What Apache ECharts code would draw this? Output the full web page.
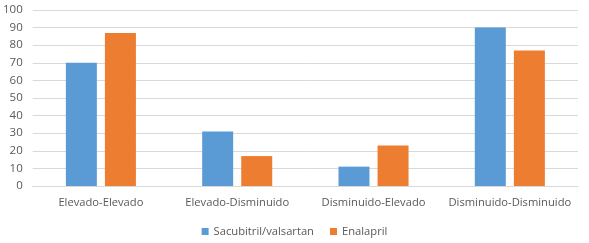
<!DOCTYPE html>
<html>
<head>
<meta charset="utf-8">
<script src="https://cdn.jsdelivr.net/npm/echarts@6/dist/echarts.min.js"></script>
<style>
  html, body { margin: 0; padding: 0; background: #fff; }
  #chart { width: 589px; height: 243px; }
</style>
</head>
<body>
<div id="chart"></div>
<script>
// datos
var categories = ['Elevado-Elevado', 'Elevado-Disminuido', 'Disminuido-Elevado', 'Disminuido-Disminuido'];
var sacubitril = [70, 31, 11, 90];
var enalapril = [87, 17, 23, 77];

var myChart = echarts.init(document.getElementById('chart'));
var txt = '#595959';
var fnt = '"Open Sans", "Liberation Sans", sans-serif';

var option = {
  animation: false,
  textStyle: { fontFamily: fnt },
  legend: {
    bottom: 1,
    left: 'center',
    itemWidth: 7,
    itemHeight: 7,
    itemGap: 16,
    icon: 'rect',
    textStyle: { color: txt, fontSize: 11.2, fontFamily: fnt },
    data: ['Sacubitril/valsartan', 'Enalapril']
  },
  grid: { left: 32, right: 11, top: 10, bottom: 57 },
  xAxis: {
    type: 'category',
    data: categories,
    axisLine: { lineStyle: { color: '#d9d9d9' } },
    axisTick: { show: false },
    axisLabel: { color: txt, fontSize: 11.2, margin: 11, interval: 0, fontFamily: fnt }
  },
  yAxis: {
    type: 'value',
    min: 0,
    max: 100,
    interval: 10,
    axisLine: { show: false },
    axisTick: { show: false },
    axisLabel: { color: txt, fontSize: 11.5, margin: 10, fontFamily: fnt },
    splitLine: { lineStyle: { color: '#d9d9d9' } }
  },
  series: [{
    name: 'Sacubitril/valsartan',
    type: 'bar',
    data: sacubitril,
    barWidth: 31,
    barGap: '26%',
    itemStyle: { color: '#5b9bd5' }
  }, {
    name: 'Enalapril',
    type: 'bar',
    data: enalapril,
    barWidth: 31,
    barGap: '26%',
    itemStyle: { color: '#ed7d31' }
  }]
};
myChart.setOption(option);
</script>
</body>
</html>
